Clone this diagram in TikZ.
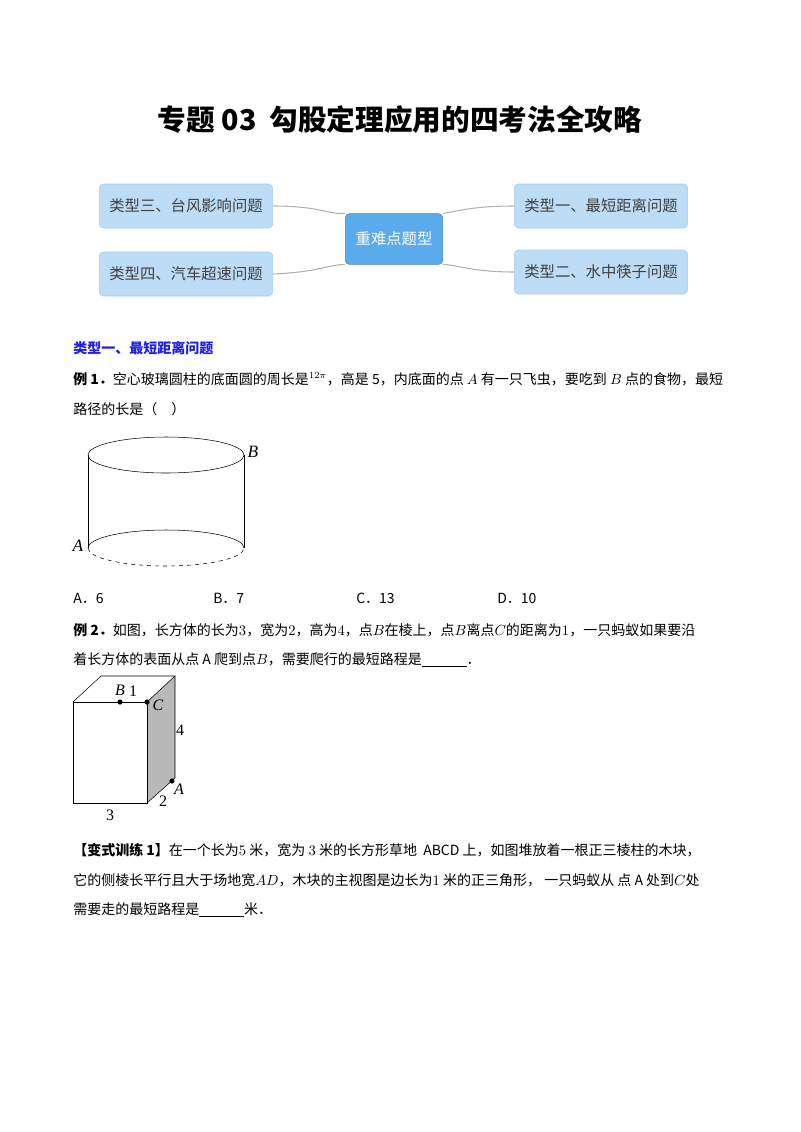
\documentclass[tikz,border=0pt]{standalone}
\usepackage{fontspec}
\setmainfont{Liberation Serif}
\newfontfamily\cjk{Noto Sans CJK SC}
\definecolor{lb}{HTML}{BDDCF6}
\definecolor{lbd}{HTML}{A9CDEF}
\definecolor{cb}{HTML}{5AAAEC}
\definecolor{tb}{HTML}{1F1FE0}
\begin{document}
\begin{tikzpicture}[x=0.75pt,y=-0.75pt,
  tbox/.style={draw=lbd,fill=lb,rounded corners=3pt,minimum width=130pt,minimum height=33pt,font=\cjk\fontsize{11.5}{13}\selectfont,text=black!75},
  cbox/.style={draw=cb!80!black,fill=cb,rounded corners=3pt,minimum width=73pt,minimum height=38pt,font=\cjk\fontsize{11.5}{13}\selectfont,text=white},
  link/.style={draw=gray!60,line width=0.8pt},
  txt/.style={anchor=west,inner sep=0,font=\cjk\fontsize{10.5}{12}\selectfont},
  lab/.style={inner sep=0,font=\fontsize{12}{14}\selectfont}]
\useasboundingbox (0,0) rectangle (800,1132);
\node (title) at (400,120) {\cjk\bfseries\fontsize{21.5}{24}\selectfont 专题 03\ \ 勾股定理应用的四考法全攻略};
\node[cbox] (c) at (394,239) {重难点题型};
\node[tbox] (l1) at (186,206) {类型三、台风影响问题};
\node[tbox] (l2) at (186,274) {类型四、汽车超速问题};
\node[tbox] (r1) at (601,206) {类型一、最短距离问题};
\node[tbox] (r2) at (601,272) {类型二、水中筷子问题};
\draw[link] (l1.east) .. controls (320,206) and (330,215) .. (c.north west);
\draw[link] (l2.east) .. controls (320,272) and (330,264) .. (c.south west);
\draw[link] (r1.west) .. controls (470,206) and (455,212) .. (c.north east);
\draw[link] (r2.west) .. controls (470,272) and (455,264) .. (c.south east);
\node[txt,text=tb,font=\cjk\bfseries\fontsize{10.5}{12}\selectfont] (h1) at (73,348) {类型一、最短距离问题};
\node[txt] (e1a) at (73,379) {\textbf{例 1．}空心玻璃圆柱的底面圆的周长是$^{12\pi}$，高是 5，内底面的点 $A$ 有一只飞虫，要吃到 $B$ 点的食物，最短};
\node[txt] (e1b) at (73,409) {路径的长是（\quad ）};
% cylinder
\draw (166,455) ellipse (78 and 18);
\draw (88,455) -- (88,548) (244,455) -- (244,548);
\draw (88,548) arc (180:360:78 and 18);
\draw[dashed] (88,548) arc (180:0:78 and 18);
\node[lab,font=\itshape\fontsize{13}{14}\selectfont] (B1) at (253,452) {B};
\node[lab,font=\itshape\fontsize{13}{14}\selectfont] (A1) at (78,546) {A};
\node[txt] (oa) at (73,598) {A．6};
\node[txt] (ob) at (213,598) {B．7};
\node[txt] (oc) at (356,598) {C．13};
\node[txt] (od) at (497,598) {D．10};
\node[txt] (e2a) at (73,630) {\textbf{例 2．}如图，长方体的长为$3$，宽为$2$，高为$4$，点$B$在棱上，点$B$离点$C$的距离为$1$，一只蚂蚁如果要沿};
\node[txt] (e2b) at (73,660) {着长方体的表面从点 A 爬到点$B$，需要爬行的最短路程是\underline{\hspace{3.2em}}．};
% box
\fill[gray!55] (147,702) -- (175,676) -- (175,778) -- (147,803) -- cycle;
\draw (73,702) rectangle (147,803);
\draw (73,702) -- (101,676) -- (175,676) -- (147,702);
\draw (175,676) -- (175,778) -- (147,803);
\fill (120,702) circle (2.6) (147,702) circle (2.6) (172,781) circle (2.6);
\node[lab,font=\itshape\fontsize{12}{14}\selectfont] at (120,690) {B};
\node[lab] at (133,691) {1};
\node[lab,font=\itshape\fontsize{12}{14}\selectfont] at (158,705) {C};
\node[lab] at (180,730) {4};
\node[lab,font=\itshape\fontsize{12}{14}\selectfont] at (179,789) {A};
\node[lab] at (163,801) {2};
\node[lab] at (110,815) {3};
\node[txt] (v1) at (73,850) {\textbf{【变式训练 1】}在一个长为$5$\ 米，宽为 $3$\ 米的长方形草地\ \ ABCD 上，如图堆放着一根正三棱柱的木块，};
\node[txt] (v2) at (73,880) {它的侧棱长平行且大于场地宽$AD$，木块的主视图是边长为$1$\ 米的正三角形，\ 一只蚂蚁从\ 点 A 处到$C$处};
\node[txt] (v3) at (73,910) {需要走的最短路程是\underline{\hspace{3.2em}}米．};
\end{tikzpicture}
\end{document}
